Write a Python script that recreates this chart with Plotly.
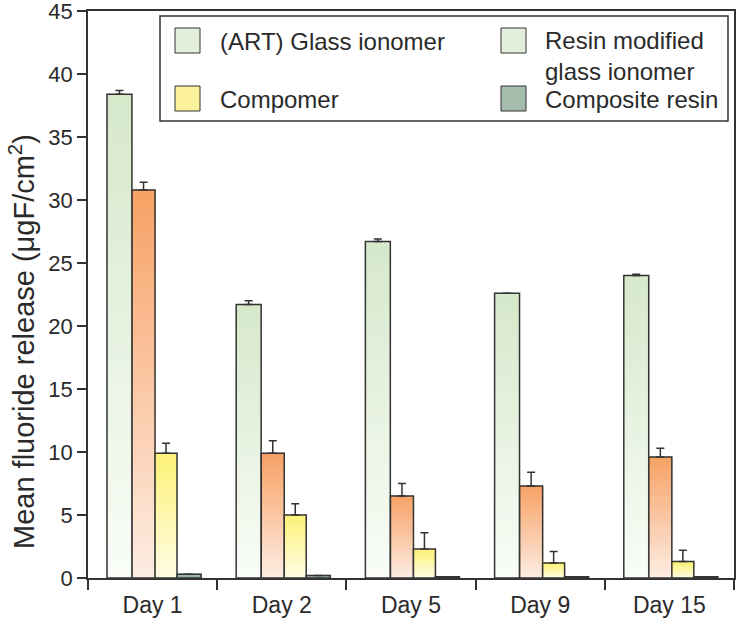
import plotly.graph_objects as go

days = ["Day 1", "Day 2", "Day 5", "Day 9", "Day 15"]
series_names = ["(ART) Glass ionomer", "Resin modified<br>glass ionomer", "Compomer", "Composite resin"]
art_gic = [38.4, 21.7, 26.7, 22.6, 24.0]
art_gic_err = [0.3, 0.3, 0.2, 0.0, 0.1]
rmgi = [30.8, 9.9, 6.5, 7.3, 9.6]
rmgi_err = [0.6, 1.0, 1.0, 1.1, 0.7]
compomer = [9.9, 5.0, 2.3, 1.2, 1.3]
compomer_err = [0.8, 0.9, 1.3, 0.9, 0.9]
composite = [0.3, 0.2, 0.1, 0.1, 0.1]
composite_err = [0.0, 0.0, 0.0, 0.0, 0.0]
y_ticks = [0, 5, 10, 15, 20, 25, 30, 35, 40, 45]
y_title = "Mean fluoride release (\u03bcgF/cm<sup>2</sup>)"

# styling (top colour, bottom colour) for gradients
grad = [
    ((214, 233, 203), (249, 252, 247)),
    ((247, 162, 102), (253, 236, 226)),
    ((253, 242, 120), (255, 252, 228)),
    ((160, 185, 168), (160, 185, 168)),
]
offsets = [-0.353, -0.159, 0.019, 0.189]
widths = [0.193, 0.178, 0.170, 0.186]
legend_colors = ["#e3efdb", "#e3efdb", "#fbf09c", "#a3bcab"]

values = [art_gic, rmgi, compomer, composite]
errors = [art_gic_err, rmgi_err, compomer_err, composite_err]

LINE = "#333333"
TXT = "#2a2a2a"
W, H = 738, 631
ML, MR, MT, MB = 88, 4, 11, 53
PW, PH = W - ML - MR, H - MT - MB
K = 40
fig = go.Figure()


def mix(c1, c2, t):
    return "rgb(%d,%d,%d)" % tuple(round(a + (b - a) * t) for a, b in zip(c1, c2))


def px_x(px):
    return (px - ML) / PW


def px_y(py):
    return (H - MB - py) / PH


for s, vals in enumerate(values):
    top, bot = grad[s]
    for k in range(K):
        col = mix(bot, top, k / (K - 1))
        fig.add_trace(go.Bar(
            x=days, y=[v / K for v in vals], base=[v * k / K for v in vals],
            offset=offsets[s], width=widths[s],
            marker=dict(color=col, line=dict(width=0.8, color=col)),
            showlegend=False, hoverinfo="skip"))
    fig.add_trace(go.Bar(
        x=days, y=vals, offset=offsets[s], width=widths[s],
        marker=dict(color="rgba(0,0,0,0)", line=dict(color=LINE, width=1.5)),
        error_y=dict(type="data", symmetric=False, array=errors[s],
                     arrayminus=[0] * len(vals), color=LINE, thickness=1.5, width=4),
        showlegend=False, name=series_names[s].replace("<br>", " ")))

# hand-drawn legend box (two columns, large swatches)
shapes = [dict(type="rect", xref="paper", yref="paper",
               x0=px_x(160), x1=px_x(728), y0=px_y(121), y1=px_y(16),
               line=dict(color=LINE, width=1.5), fillcolor="white", layer="above")]
annotations = []
legend_slots = [(175, 28, 218, 41, "middle"), (501, 28, 543, 25, "top"),
                (175, 86, 218, 99, "middle"), (501, 86, 543, 99, "middle")]
for s, (sx, sy, tx, ty, ya) in enumerate(legend_slots):
    shapes.append(dict(type="rect", xref="paper", yref="paper",
                       x0=px_x(sx), x1=px_x(sx + 25), y0=px_y(sy + 25), y1=px_y(sy),
                       line=dict(color=LINE, width=1), fillcolor=legend_colors[s], layer="above"))
    annotations.append(dict(xref="paper", yref="paper", x=px_x(tx), y=px_y(ty),
                            xanchor="left", yanchor=ya, align="left", showarrow=False,
                            text=series_names[s], font=dict(size=24, color=TXT)))

# y-axis title (placed as in the reference, below the plot's vertical centre)
annotations.append(dict(xref="paper", yref="paper", x=px_x(22), y=px_y(342),
                        xanchor="center", yanchor="middle", textangle=-90, showarrow=False,
                        text=y_title, font=dict(size=29, color=TXT)))

fig.update_layout(
    width=W, height=H,
    margin=dict(l=ML, r=MR, t=MT, b=MB, autoexpand=False),
    barmode="overlay",
    plot_bgcolor="white", paper_bgcolor="white",
    font=dict(family="Liberation Sans, Arial, sans-serif", color=TXT, size=23),
    showlegend=False,
    shapes=shapes, annotations=annotations,
)
fig.update_xaxes(
    type="category", range=[-0.5, 4.5], tickson="boundaries",
    ticks="outside", ticklen=10, tickwidth=1.5, tickcolor=LINE,
    showline=True, linecolor=LINE, linewidth=1.5, mirror=True,
    showgrid=False, tickfont=dict(size=23), automargin=False, ticklabelstandoff=6)
fig.update_yaxes(
    range=[0, 45], tickvals=y_ticks, ticks="outside", ticklen=9, tickwidth=1.5,
    tickcolor=LINE, showline=True, linecolor=LINE, linewidth=1.5, mirror=True,
    showgrid=False, zeroline=False, tickfont=dict(size=22), ticklabeloverflow="allow",
    automargin=False)

fig.write_html("out.html", config={"displayModeBar": False},
               post_script="document.body.style.margin='0px';")
